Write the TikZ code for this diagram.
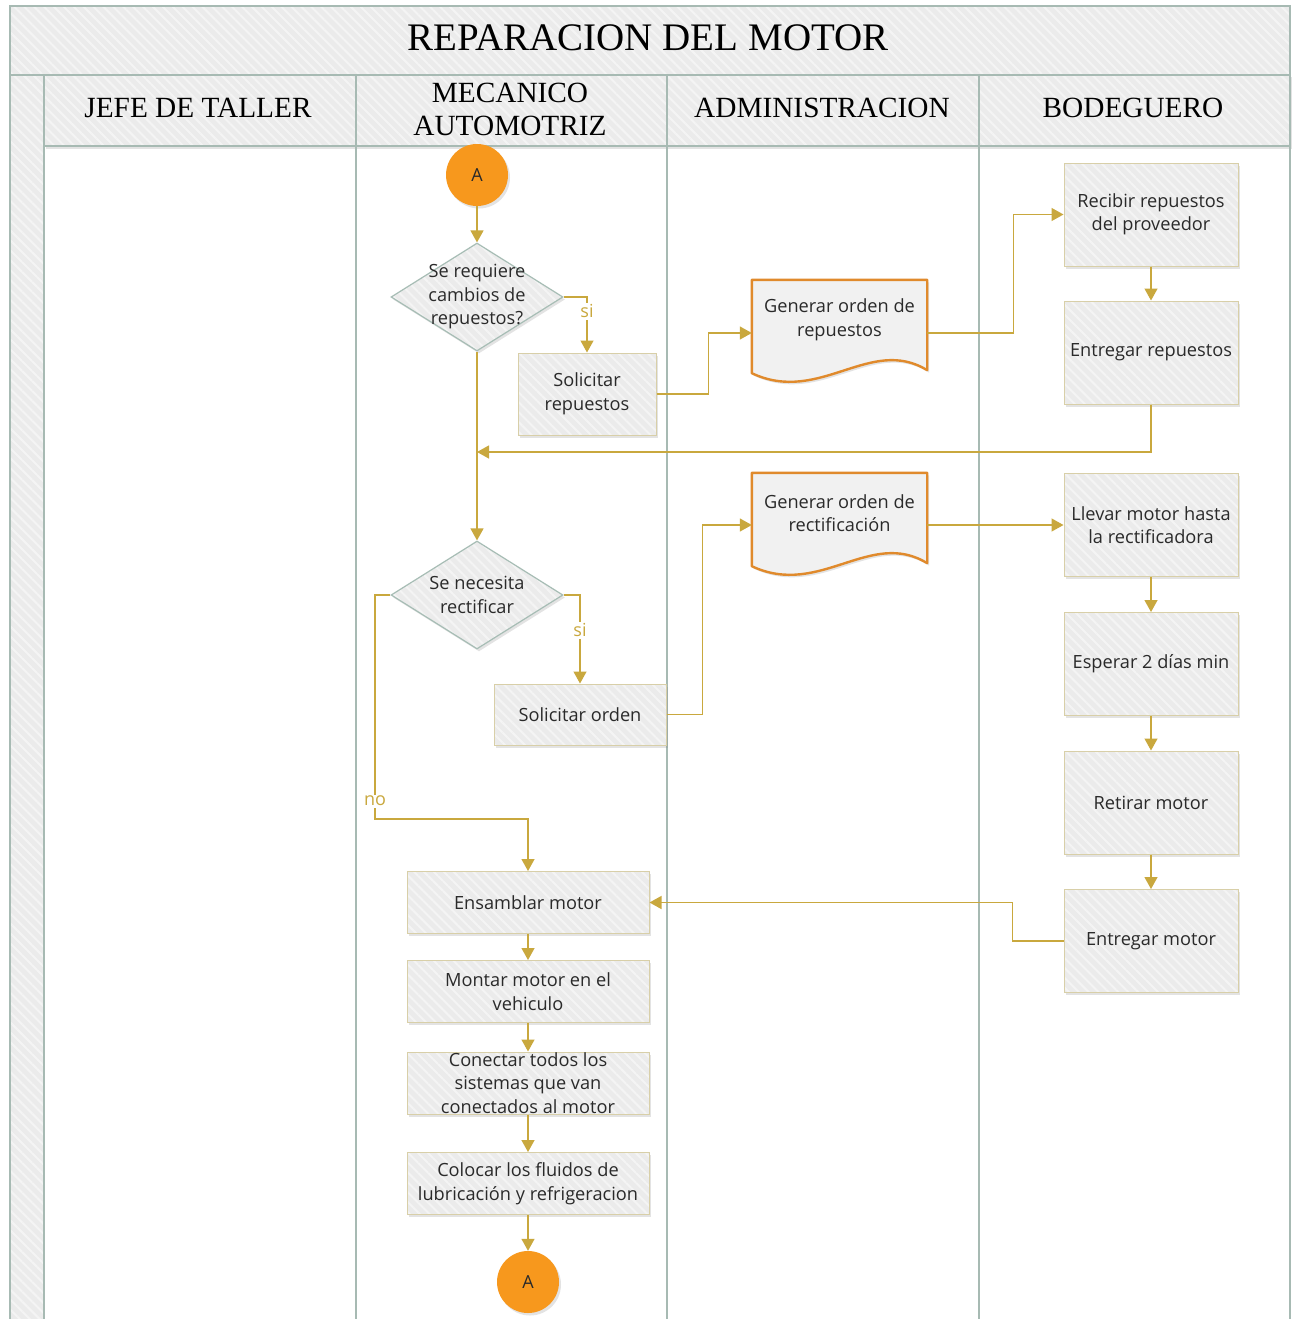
\documentclass[tikz,border=0pt]{standalone}
\usepackage{fontspec}
\setmainfont{Open Sans}
\newfontfamily\headfont{Liberation Serif}
\usetikzlibrary{arrows.meta,shapes.geometric,shadows,patterns.meta,calc}

\definecolor{flowc}{HTML}{C9A83E}
\definecolor{lanec}{HTML}{A7BAB3}
\definecolor{boxline}{HTML}{D8CFA8}
\definecolor{boxfill}{HTML}{EBEBEB}
\definecolor{stripe}{HTML}{F4F4F4}
\definecolor{dialine}{HTML}{A7BDB5}
\definecolor{docline}{HTML}{E08A2C}
\definecolor{docfill}{HTML}{F1F1F1}
\definecolor{connA}{HTML}{F7981D}
\definecolor{txt}{HTML}{2A2A2A}

\pgfdeclarelayer{back}
\pgfdeclarelayer{docs}
\pgfsetlayers{back,docs,main}

\tikzset{
  hatch/.style={preaction={fill=boxfill},
    preaction={pattern={Lines[angle=-45,distance=7pt,line width=2pt]}, pattern color=stripe}},
  soft/.style={drop shadow={opacity=0.22,shadow xshift=2pt,shadow yshift=-2.5pt}},
  lane/.style={draw=lanec, line width=1.5pt},
  lanehead/.style={font=\headfont\fontsize{29.3}{33}\selectfont, align=center, text=black},
  bodytext/.style={font=\fontsize{18.2}{23.5}\selectfont, text=txt, align=center},
  task/.style={rectangle, soft, hatch, draw=boxline, line width=1pt, bodytext, inner sep=0pt},
  sidetask/.style={task, minimum width=174pt, minimum height=103pt},
  mectask/.style={task, minimum width=242pt, minimum height=62pt},
  decision/.style={diamond, soft, hatch, draw=dialine, line width=1.2pt, inner sep=0pt,
    minimum width=172pt, minimum height=108pt},
  docnode/.style={rectangle, draw=none, inner sep=0pt, bodytext, minimum width=175pt, minimum height=80pt},
  docshape/.style={soft, draw=docline, line width=2.4pt, fill=docfill, line join=round},
  connector/.style={circle, fill=connA, draw=none, minimum size=62pt, inner sep=0pt, soft,
    font=\fontsize{18}{20}\selectfont, text=txt},
  flow/.style={draw=flowc, line width=1.3pt, -{Triangle[width=13pt,length=12pt]}},
  yes/.style={font=\fontsize{18}{20}\selectfont, text=flowc, fill=white, inner sep=1.5pt}
}

\begin{document}
\begin{tikzpicture}[x=1pt,y=-1pt]
\useasboundingbox (0,0) rectangle (1291,1319);

% pool frame: title band, left strip and lane headers
\begin{pgfonlayer}{back}
\fill[white] (0,0) rectangle (1291,1319);
\path[hatch] (10,6) rectangle (1290,75);
\path[hatch] (10,75) rectangle (44,1319);
\path[soft, hatch] (44,75) rectangle (1290,146);
\draw[lane] (10,1319) -- (10,6) -- (1290,6) -- (1290,1319);
\draw[lane] (10,75) -- (1290,75);
\draw[lane] (44,146) -- (1290,146);
\foreach \x in {44,356,667,979} \draw[lane] (\x,75) -- (\x,1319);
\end{pgfonlayer}

\node[font=\headfont\fontsize{39}{42}\selectfont, text=black] (title) at (648,38) {REPARACION DEL MOTOR};
\node[lanehead] (h1) at (198,108) {JEFE DE TALLER};
\node[lanehead] (h2) at (510,109) {MECANICO\\AUTOMOTRIZ};
\node[lanehead] (h3) at (822,108) {ADMINISTRACION};
\node[lanehead] (h4) at (1133,108) {BODEGUERO};

% mecanico automotriz
\node[connector] (A1) at (477,175) {A};
\node[decision] (q1) at (477,297) {};
\node[bodytext] (q1t) at (q1) {Se requiere\\cambios de\\repuestos?};
\node[task, minimum width=138pt, minimum height=82pt] (srep) at (587,394) {Solicitar\\repuestos};
\node[decision] (q2) at (477,595) {};
\node[bodytext] (q2t) at (q2) {Se necesita\\rectificar};
\node[task, minimum width=172pt, minimum height=61pt] (sord) at (580,714.5) {Solicitar orden};
\node[mectask] (ens) at (528,902.5) {Ensamblar motor};
\node[mectask] (mont) at (528,991.5) {Montar motor en el\\vehiculo};
\node[mectask] (con) at (528,1083) {};
\node[bodytext] (cont) at (con) {Conectar todos los\\sistemas que van\\conectados al motor};
\node[mectask] (col) at (528,1183.5) {Colocar los fluidos de\\lubricación y refrigeracion};
\node[connector] (A2) at (528,1282) {A};

% administracion: documents with a wavy lower edge
\node[docnode] (g1) at (839.5,320) {Generar orden de\\repuestos};
\node[docnode] (g2) at (839.5,513) {Generar orden de\\rectificación};
\begin{pgfonlayer}{docs}
\foreach \d in {g1,g2}{
  \path[docshape] (\d.north west) -- (\d.north east) -- ($(\d.south east)+(0,10)$)
    .. controls +(-57,-35) and +(68,32) .. ($(\d.south west)+(0,13)$) -- cycle;
}
\end{pgfonlayer}

% bodeguero
\node[sidetask] (rec) at (1151,214.5) {Recibir repuestos\\del proveedor};
\node[sidetask] (erep) at (1151,352.5) {Entregar repuestos};
\node[sidetask] (llev) at (1151,525) {Llevar motor hasta\\la rectificadora};
\node[sidetask] (esp) at (1151,664) {Esperar 2 días min};
\node[sidetask] (ret) at (1151,802.5) {Retirar motor};
\node[sidetask] (emot) at (1151,941) {Entregar motor};

% connectors
\coordinate (m1) at (477,452);
\coordinate (nb) at (375,819);
\draw[flow] (A1.south) -- (q1.north);
\draw[flow] (q1.east) -| node[yes, pos=0.63] {si} (srep.north);
\draw[flow] (srep.east) -- ++(52,0) |- ([yshift=-13pt]g1.west);
\draw[flow] ([yshift=-13pt]g1.east) -- ++(86,0) |- (rec.west);
\draw[flow] (rec) -- (erep);
\draw[flow] (erep.south) |- (m1);
\draw[flow] (q1.south) -- (q2.north);
\draw[flow] (q2.east) -| node[yes, pos=0.70] {si} (sord.north);
\draw[flow] (sord.east) -- ++(36,0) |- ([yshift=-12pt]g2.west);
\draw[flow] ([yshift=-12pt]g2.east) -- (llev.west);
\draw[flow] (llev) -- (esp);
\draw[flow] (esp) -- (ret);
\draw[flow] (ret) -- (emot);
\draw[flow] (emot.west) -- ++(-51,0) |- (ens.east);
\draw[flow] (q2.west) -| node[yes, pos=0.96] {no} (nb) -| (ens.north);
\draw[flow] (ens) -- (mont);
\draw[flow] (mont) -- (con);
\draw[flow] (con) -- (col);
\draw[flow] (col) -- (A2);
\end{tikzpicture}
\end{document}
